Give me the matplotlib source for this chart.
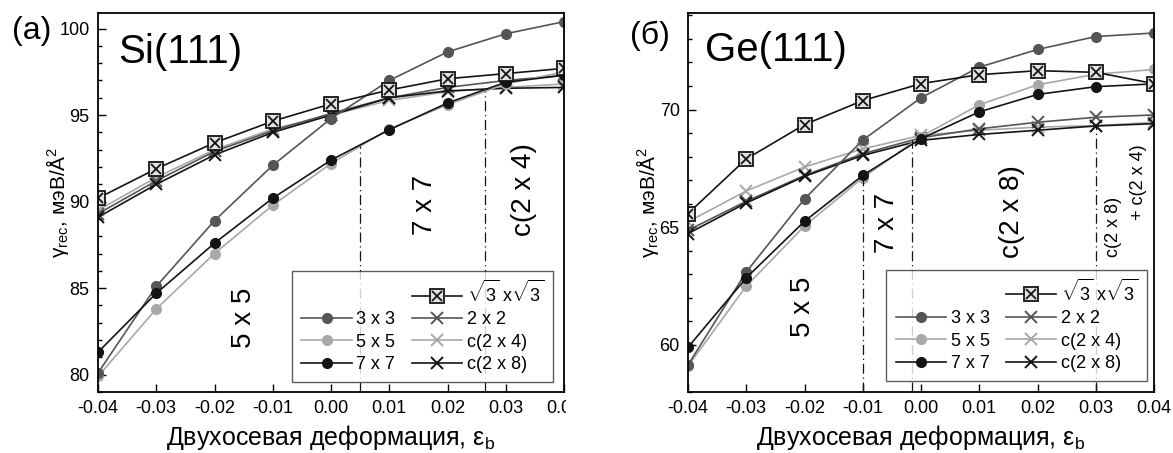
import matplotlib
matplotlib.use('Agg')
import matplotlib.pyplot as plt
from matplotlib.lines import Line2D
from matplotlib.patches import Rectangle
from matplotlib.ticker import MultipleLocator
from matplotlib.legend_handler import HandlerTuple

plt.rcParams['font.family'] = ['Liberation Sans', 'DejaVu Sans']
plt.rcParams['mathtext.fontset'] = 'custom'
plt.rcParams['mathtext.rm'] = 'Liberation Sans'
plt.rcParams['mathtext.it'] = 'Liberation Sans:italic'
plt.rcParams['mathtext.sf'] = 'Liberation Sans'

# --- data --- #
strain = [-0.04, -0.03, -0.02, -0.01, 0.00, 0.01, 0.02, 0.03, 0.04]

si_3x3 = [80.1, 85.1, 88.9, 92.1, 94.8, 97.0, 98.65, 99.7, 100.4]
si_5x5 = [79.9, 83.8, 87.0, 89.8, 92.2, 94.2, 95.6, 96.8, 97.5]
si_7x7 = [81.3, 84.7, 87.6, 90.2, 92.4, 94.15, 95.7, 96.9, 97.3]
si_sqrt3 = [90.2, 91.9, 93.4, 94.65, 95.65, 96.45, 97.1, 97.4, 97.7]
si_2x2 = [89.3, 91.2, 92.9, 94.1, 95.1, 96.0, 96.6, 97.0, 97.3]
si_c2x4 = [89.5, 91.4, 93.0, 94.2, 95.0, 95.85, 96.35, 96.6, 96.8]
si_c2x8 = [89.1, 91.0, 92.7, 94.0, 95.0, 96.0, 96.4, 96.55, 96.6]

ge_3x3 = [59.15, 63.1, 66.2, 68.7, 70.5, 71.8, 72.55, 73.1, 73.25]
ge_5x5 = [59.1, 62.5, 65.05, 67.1, 68.85, 70.2, 71.05, 71.5, 71.7]
ge_7x7 = [59.9, 62.85, 65.25, 67.2, 68.76, 69.9, 70.64, 70.97, 71.09]
ge_sqrt3 = [65.58, 67.9, 69.36, 70.38, 71.1, 71.48, 71.65, 71.58, 71.1]
ge_2x2 = [64.87, 66.1, 67.2, 68.12, 68.8, 69.18, 69.46, 69.67, 69.77]
ge_c2x4 = [65.23, 66.54, 67.56, 68.33, 68.9, 69.12, 69.25, 69.32, 69.45]
ge_c2x8 = [64.73, 66.03, 67.16, 68.05, 68.69, 68.94, 69.12, 69.3, 69.4]

# phase boundaries (dash-dot lines): x position and top of line
si_bound_x = [0.005, 0.0265]
si_bound_top = [93.2, 96.4]
ge_bound_x = [-0.01, -0.0015, 0.03]
ge_bound_top = [67.2, 68.7, 69.3]

labels = ['3 x 3', '5 x 5', '7 x 7', r'$\sqrt{3}$ x$\sqrt{3}$',
          '2 x 2', 'c(2 x 4)', 'c(2 x 8)']

DARK = '#555555'
LIGHT = '#a8a8a8'
BLACK = '#141414'


def draw_panel(ax, s3x3, s5x5, s7x7, ssq, s2x2, sc24, sc28):
    kw = dict(lw=1.2)
    h24, = ax.plot(strain, sc24, color=LIGHT, marker='x', ms=8, mew=1.4, **kw)
    h22, = ax.plot(strain, s2x2, color=DARK, marker='x', ms=8, mew=1.4, **kw)
    h28, = ax.plot(strain, sc28, color=BLACK, marker='x', ms=8, mew=1.4, **kw)
    h55, = ax.plot(strain, s5x5, color=LIGHT, marker='o', ms=7, **kw)
    h33, = ax.plot(strain, s3x3, color=DARK, marker='o', ms=7, **kw)
    h77, = ax.plot(strain, s7x7, color=BLACK, marker='o', ms=7, **kw)
    hsq, = ax.plot(strain, ssq, color=BLACK, marker='s', ms=10, mfc='#e2e2e2',
                   mec=BLACK, mew=1.3, **kw)
    hsx, = ax.plot(strain, ssq, color=BLACK, marker='x', ms=7, mew=1.3,
                   linestyle='none')
    return h33, h55, h77, (hsq, hsx), h22, h24, h28


def style_axes(ax, ylim, major):
    ax.set_xlim(-0.04, 0.04)
    ax.set_ylim(*ylim)
    ax.xaxis.set_major_locator(MultipleLocator(0.01))
    ax.yaxis.set_major_locator(MultipleLocator(major))
    ax.yaxis.set_minor_locator(MultipleLocator(1))
    ax.xaxis.set_major_formatter(plt.FuncFormatter(lambda v, p: f'{v:.2f}'))
    ax.tick_params(which='major', direction='in', length=6, width=1,
                   labelsize=13, pad=6, top=False, right=False)
    ax.tick_params(which='minor', direction='in', length=3, width=1,
                   top=False, right=False)
    for sp in ax.spines.values():
        sp.set_linewidth(1.3)
    ax.set_xlabel(r'Двухосевая деформация, ε$_\mathrm{b}$', fontsize=18,
                  labelpad=4)
    ax.set_ylabel(r'γ$_\mathrm{rec}$, мэВ/Å$^2$', fontsize=15)
    ax.yaxis.set_label_coords(-0.058, 0.5)


def add_legend(ax, handles, anchor):
    blank = Line2D([], [], linestyle='none')
    h33, h55, h77, hsq, h22, h24, h28 = handles
    order = [blank, h33, h55, h77, hsq, h22, h24, h28]
    names = ['', labels[0], labels[1], labels[2], labels[3],
             labels[4], labels[5], labels[6]]
    leg = ax.legend(order, names, ncol=2, loc='lower right',
                    bbox_to_anchor=anchor, borderaxespad=0, fontsize=13,
                    frameon=True, fancybox=False, edgecolor='#333333',
                    handlelength=2.8, handletextpad=0.25, columnspacing=0.9,
                    labelspacing=0.3, borderpad=0.5,
                    handler_map={tuple: HandlerTuple(ndivide=1, pad=0)})
    leg.get_frame().set_linewidth(1.0)
    return leg


fig = plt.figure(figsize=(11.73, 4.53), dpi=100)
ax1 = fig.add_axes([98 / 1173, 61 / 453, 466 / 1173, 379 / 453])
ax2 = fig.add_axes([688 / 1173, 61 / 453, 466 / 1173, 379 / 453])

# --- (a) Si(111) --- #
h = draw_panel(ax1, si_3x3, si_5x5, si_7x7, si_sqrt3, si_2x2, si_c2x4, si_c2x8)
style_axes(ax1, (79.0, 100.9), 5)
ax1.vlines(si_bound_x, 79.0, si_bound_top, colors=BLACK, lw=0.9,
           linestyles=(0, (8, 3, 1, 3)))
add_legend(ax1, h, (0.976, 0.026))
ax1.text(-0.0366, 98.0, 'Si(111)', fontsize=29, va='baseline')
ax1.text(-0.015, 83.3, '5 x 5', fontsize=20, rotation=90, ha='center', va='center')
ax1.text(0.0162, 89.8, '7 x 7', fontsize=20, rotation=90, ha='center', va='center')
ax1.text(0.0331, 90.7, 'c(2 x 4)', fontsize=20, rotation=90, ha='center', va='center')

# --- (б) Ge(111) --- #
h = draw_panel(ax2, ge_3x3, ge_5x5, ge_7x7, ge_sqrt3, ge_2x2, ge_c2x4, ge_c2x8)
style_axes(ax2, (58.0, 74.1), 5)
ax2.vlines(ge_bound_x, 58.0, ge_bound_top, colors=BLACK, lw=0.9,
           linestyles=(0, (8, 3, 1, 3)))
add_legend(ax2, h, (0.985, 0.029))
ax2.text(-0.0371, 72.08, 'Ge(111)', fontsize=29, va='baseline')
ax2.text(-0.0203, 61.6, '5 x 5', fontsize=20, rotation=90, ha='center', va='center')
ax2.text(-0.0059, 65.17, '7 x 7', fontsize=20, rotation=90, ha='center', va='center')
ax2.text(0.0156, 65.65, 'c(2 x 8)', fontsize=20, rotation=90, ha='center', va='center')
ax2.text(0.0331, 65.0, 'c(2 x 8)', fontsize=13, rotation=90, ha='center', va='center')
ax2.text(0.0373, 66.9, '+ c(2 x 4)', fontsize=13, rotation=90, ha='center', va='center')

fig.text(12 / 1173, 1 - 31 / 453, '(a)', fontsize=23, va='center')
fig.text(630 / 1173, 1 - 36 / 453, '(б)', fontsize=23, va='center')

# the original panel (a) is cropped right at its last tick label
fig.add_artist(Rectangle((566 / 1173, 1 - 428 / 453), 40 / 1173, 34 / 453,
                         transform=fig.transFigure, facecolor='white',
                         edgecolor='none', zorder=10))

fig.savefig('out.png', dpi=100)
